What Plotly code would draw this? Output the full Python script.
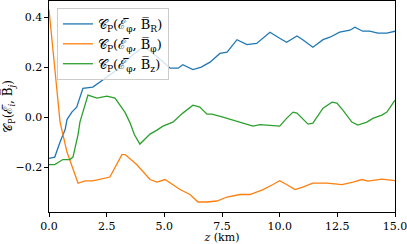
import plotly.graph_objects as go

# ---- data ----
z_blue = [0, 0.25, 0.48, 0.7, 0.78, 0.99, 1.2, 1.47, 1.9, 2.2, 2.95, 3.5, 4.07, 4.3, 4.85, 5.25,
          5.6, 5.8, 6.24, 6.6, 6.98, 7.41, 7.72, 8.15, 8.58, 9.0, 9.58, 10.0, 10.3, 10.75, 11.0,
          11.44, 11.88, 12.18, 12.6, 13.05, 13.26, 13.6, 13.9, 14.26, 14.65, 15.0]
c_blue = [-0.165, -0.16, -0.10, -0.05, -0.01, 0.02, 0.04, 0.115, 0.12, 0.14, 0.19, 0.24, 0.28,
          0.27, 0.23, 0.196, 0.196, 0.21, 0.19, 0.20, 0.22, 0.255, 0.26, 0.31, 0.29, 0.295, 0.34,
          0.316, 0.30, 0.325, 0.31, 0.28, 0.31, 0.32, 0.34, 0.348, 0.36, 0.344, 0.344, 0.336,
          0.336, 0.344]

z_orange = [0, 0.48, 0.78, 1.26, 1.56, 1.9, 2.64, 3.16, 3.3, 3.8, 4.38, 4.68, 5.03, 5.37, 5.68,
            6.11, 6.46, 6.85, 7.28, 7.72, 8.28, 8.71, 9.28, 9.71, 10.0, 10.3, 10.66, 11.0, 11.44,
            12.05, 12.7, 13.18, 13.57, 13.83, 14.43, 15.0]
c_orange = [0.43, -0.02, -0.14, -0.265, -0.255, -0.255, -0.24, -0.15, -0.15, -0.19, -0.25,
            -0.26, -0.25, -0.27, -0.29, -0.31, -0.34, -0.34, -0.336, -0.32, -0.31, -0.31, -0.29,
            -0.27, -0.255, -0.27, -0.29, -0.28, -0.264, -0.264, -0.27, -0.26, -0.25, -0.256,
            -0.248, -0.254]

z_green = [0, 0.25, 0.6, 0.9, 1.04, 1.26, 1.34, 1.65, 1.69, 2.08, 2.51, 2.86, 3.29, 3.5, 3.7,
           3.94, 4.38, 4.68, 4.94, 5.37, 5.8, 6.24, 6.54, 6.85, 7.07, 7.54, 8.28, 8.84, 9.15,
           9.71, 10.0, 10.3, 10.58, 10.75, 11.23, 11.44, 11.88, 12.27, 12.48, 12.74, 13.13,
           13.39, 13.78, 14.04, 14.43, 14.65, 15.0]
c_green = [-0.19, -0.19, -0.17, -0.17, -0.16, -0.07, -0.02, 0.068, 0.088, 0.076, 0.084, 0.076,
           0.02, -0.02, -0.07, -0.108, -0.068, -0.052, -0.036, -0.02, 0.016, 0.048, 0.04, 0.012,
           0.012, 0.0, -0.02, -0.036, -0.03, -0.035, -0.036, -0.005, 0.02, 0.016, -0.028,
           -0.024, 0.036, 0.06, 0.056, 0.028, -0.02, -0.032, -0.02, -0.005, 0.008, 0.02, 0.068]

names = ["𝒞<sub>P</sub>(ℰ̅<sub>φ</sub>, B̅<sub>R</sub>)",
         "𝒞<sub>P</sub>(ℰ̅<sub>φ</sub>, B̅<sub>φ</sub>)",
         "𝒞<sub>P</sub>(ℰ̅<sub>φ</sub>, B̅<sub>z</sub>)"]
colors = ["#1f77b4", "#ff7f0e", "#2ca02c"]

x_ticks = [0, 2.5, 5, 7.5, 10, 12.5, 15]
y_ticks = [-0.2, 0.0, 0.2, 0.4]

FONT = "DejaVu Serif"

fig = go.Figure()
for zz, cc, nm, col in zip([z_blue, z_orange, z_green], [c_blue, c_orange, c_green], names, colors):
    fig.add_trace(go.Scatter(x=zz, y=cc, mode="lines", name=nm,
                             line=dict(color=col, width=1.3)))

fig.update_layout(
    width=407, height=244,
    margin=dict(l=49, r=12, t=1, b=32, autoexpand=False),
    plot_bgcolor="white", paper_bgcolor="white",
    font=dict(family=FONT, size=11, color="black"),
    showlegend=True,
    legend=dict(x=0.023, y=0.967, xanchor="left", yanchor="top",
                bgcolor="rgba(255,255,255,0.8)", bordercolor="#cccccc", borderwidth=1,
                font=dict(family=FONT, size=13), tracegroupgap=0, itemwidth=30),
)
fig.update_xaxes(range=[0, 15], tickvals=x_ticks, tickformat=".1f", ticklabeloverflow="allow",
                 showline=True, linecolor="black", linewidth=1.2, mirror=True,
                 ticks="outside", ticklen=3.5, tickcolor="black", showgrid=False, zeroline=False,
                 title=dict(text="<i>z</i> (km)", standoff=3, font=dict(size=11)))
fig.update_yaxes(range=[-0.38, 0.465], tickvals=y_ticks, tickformat=".1f", ticklabeloverflow="allow",
                 showline=True, linecolor="black", linewidth=1.2, mirror=True,
                 ticks="outside", ticklen=3.5, tickcolor="black", showgrid=False, zeroline=False,
                 title=dict(text="𝒞<sub>P</sub>(ℰ̅<sub><i>i</i></sub>, B̅<sub><i>j</i></sub>)",
                            standoff=4, font=dict(size=12)))

fig.write_html("out.html", config={"displayModeBar": False},
               post_script="document.body.style.margin='0';")
